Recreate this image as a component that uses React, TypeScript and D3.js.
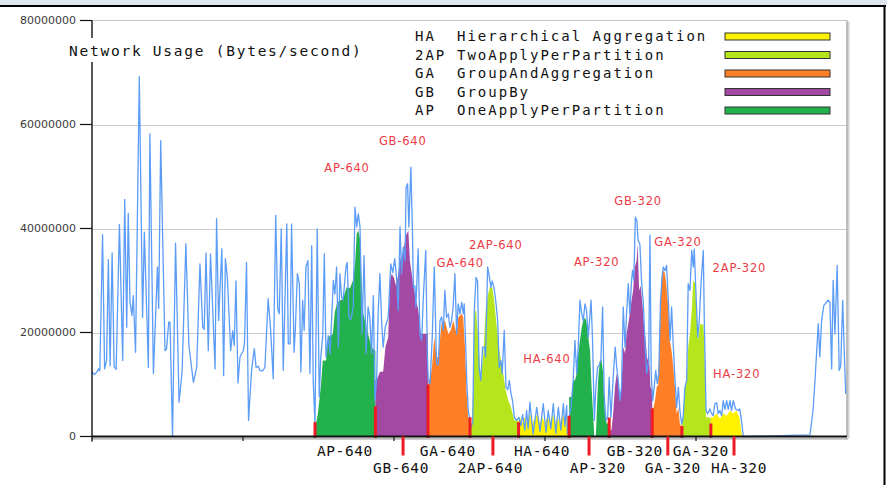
import React from 'react';
import * as d3 from 'd3';

// ---------- data (time in seconds, values in millions of bytes/second) ----------
const yTickValues = [0, 20, 40, 60, 80];
const xTickValues = [0, 60, 120, 180, 240, 300];

const networkUsage: [number, number][] = [
  [0,12.4],[0.9,11.9],[1.8,12.3],[2.6,13.0],[3.1,12.6],[4.2,38.8],[5.0,13.0],[5.8,14.6],[6.5,34.0],[7.2,13.6],[8.0,35.3],[8.8,13.4],[9.6,12.9],[10.9,40.8],[12.2,14.6],[13.0,45.6],[13.8,21.0],[14.4,42.9],[15.1,25.8],[15.9,23.3],[16.4,27.1],[17.3,16.2],[18.8,69.2],[20.1,22.9],[20.8,39.3],[22.4,13.3],[23.0,58.2],[24.4,12.1],[26.0,32.6],[26.5,24.6],[27.3,56.9],[29.0,16.5],[29.6,16.8],[30.5,22.0],[31.0,22.0],[32.0,0],[33.2,37.2],[34.6,6.6],[35.8,12.4],[37.3,37.1],[38.5,17.5],[40.3,10.4],[41.6,13.3],[42.9,33.2],[44.0,21.0],[44.6,20.6],[45.3,35.3],[46.2,16.5],[47.1,35.1],[48.9,13.0],[49.5,41.9],[50.3,22.3],[51.6,36.1],[52.3,11.7],[53.0,34.2],[53.8,30.4],[55.1,16.5],[55.9,20.3],[56.5,17.5],[57.2,29.9],[58.0,10.3],[58.8,15.3],[60.1,16.5],[60.6,17.9],[61.4,33.5],[62.2,3.1],
  [63.4,12.7],[64.5,16.9],[65.2,13.3],[66.1,13.5],[66.7,12.7],[67.8,12.6],[68.7,13.3],[70.0,26.5],[71.0,20.4],[72.0,11.1],[73.0,42.5],[73.8,24.6],[74.4,23.6],[75.2,39.9],[76.0,12.7],[77.4,40.9],[78.0,17.8],[78.7,17.8],[79.3,40.9],[80.3,16.2],[80.8,20.7],[81.6,31.3],[82.4,29.4],[83.0,12.4],[83.7,26.2],[84.3,20.4],[85.0,32.6],[85.8,33.8],[86.6,12.1],[87.3,36.7],[87.9,10.8],[88.6,2.4],[89.5,39.9],[90.3,7.6],[90.9,15.3],[91.7,19.4],[92.3,35.1],[93.0,15.3],[93.9,19.4],[94.6,15.9],[95.9,30.0],[96.5,27.4],[97.2,32.6],[97.9,17.2],[98.5,31.3],[99.2,26.8],[99.8,26.2],[100.9,32.6],[101.4,33.5],[102.1,22.9],[102.9,22.5],[103.8,24.9],[104.5,44.1],[105.2,40.3],[105.8,42.8],[106.5,40.3],[107.3,19.7],[108.1,34.8],[108.9,15.9],[109.7,24.9],[110.4,22.9],[111.1,15.9],[111.8,27.1],[112.4,6.9],[113.1,10.8],[113.7,23.6],[114.4,31.3],[115.1,21.7],[115.7,17.2],[116.5,21.0],[117.7,22.9],[118.7,33.2],[119.5,31.5],[120.3,34.2],[121.1,30.0],[121.7,24.2],
  [122.4,40.3],[123.0,31.3],[123.7,36.4],[124.4,33.8],[124.8,47.9],[125.4,48.6],[125.9,40.3],[126.7,51.8],[127.3,40.3],[127.7,28.7],[128.3,29.0],[128.7,24.9],[129.6,36.1],[130.3,19.7],[131.0,18.5],[131.6,26.2],[132.6,35.8],[133.2,17.2],[133.6,10.8],[134.3,10.1],[135.2,19.1],[136.0,32.6],[136.9,14.0],[137.6,13.8],[138.3,22.3],[138.9,23.0],[139.6,20.4],[140.2,28.1],[140.9,22.9],[141.6,23.6],[142.2,21.0],[142.9,22.3],[143.5,24.9],[144.2,31.3],[144.9,19.7],[145.5,25.5],[146.2,23.6],[146.9,25.8],[147.5,23.6],[147.9,25.5],[148.5,17.2],[148.9,10.8],[149.5,5.0],[150.6,1.8],[151.3,2.8],[151.9,24.2],[152.6,30.6],[153.2,29.9],[153.8,13.3],[154.5,10.8],[155.2,17.2],[155.9,17.2],[156.4,15.3],[157.2,32.6],[157.8,31.0],[158.5,28.7],[159.0,29.9],[159.7,28.7],[160.4,26.2],[161.2,22.3],[161.8,13.3],[162.5,14.6],[163.0,12.1],[163.8,20.4],[164.5,9.5],[165.2,9.0],[165.8,10.8],[166.5,8.2],[167.1,6.9],[167.8,3.7],[168.7,3.1],[169.6,3.7],[170.4,2.1],[171.1,4.2],[172.0,1.2],[172.7,5.0],[173.3,1.5],[174.0,6.6],[175.3,0.5],[176.7,5.6],[178.0,1.0],[179.3,6.3],[180.4,0.8],[181.3,5.0],[182.3,1.5],[183.3,6.3],[184.3,0.6],[185.3,5.6],[186.3,1.2],[187.3,6.3],[187.9,2.0],[188.6,6.0],[188.9,0.5],[189.6,3.7],[190.3,5.6],
  [191.2,10.8],[191.9,18.5],[192.6,12.1],[193.2,17.2],[193.9,26.2],[194.6,23.6],[195.2,22.3],[195.9,25.5],[196.5,24.2],[197.2,19.1],[198.3,26.2],[198.9,18.5],[199.6,3.1],[200.2,9.5],[200.9,13.3],[201.6,13.8],[202.2,14.6],[202.9,24.9],[203.5,8.2],[204.2,3.1],[204.9,3.7],[205.5,11.4],[206.2,3.7],[207.1,11.4],[207.9,17.2],[208.5,13.3],[209.1,10.8],[209.8,6.9],[210.4,9.5],[211.1,24.9],[211.8,17.2],[212.4,23.6],[213.1,29.4],[213.7,23.6],[214.4,30.0],[214.8,32.0],[215.3,30.0],[215.9,42.2],[216.5,41.5],[217.0,37.7],[217.7,37.0],[218.4,29.4],[219.0,26.2],[219.7,18.5],[220.4,12.1],[221.2,14.6],[221.7,38.7],[222.2,12.1],[222.8,6.9],[223.4,9.5],[224.0,12.7],[224.6,10.2],[225.2,12.1],[225.9,26.2],[226.5,30.6],[227.0,32.6],[227.7,31.9],[228.3,32.9],[229.0,26.2],[229.7,18.5],[230.3,24.9],[231.0,17.2],[231.6,11.4],[232.3,5.6],[233.0,9.5],[233.6,5.0],[234.3,2.4],[234.9,3.7],[235.6,9.5],[236.3,10.8],[236.9,29.4],[237.6,28.1],[238.3,35.8],[238.9,32.6],[239.3,36.1],[240.0,27.4],[240.7,19.1],[241.3,22.3],[242.0,29.4],[242.9,35.8],[243.3,22.3],[244.0,5.0],[244.6,4.4],[245.5,5.3],[246.2,4.4],[246.8,4.0],[247.5,6.3],[248.2,6.5],[248.8,4.4],[249.5,5.0],[250.2,4.0],[250.8,6.9],[251.5,5.2],[252.2,6.9],[252.8,5.2],[253.5,6.9],[254.1,5.0],[254.8,6.9],[255.7,5.3],[256.8,5.0],[257.4,5.3],[258.1,3.0],[258.8,0],[285.3,0.3],[286.5,5.0],[287.2,10.1],[288.6,21.7],[289.2,15.3],[289.9,22.3],[290.8,25.2],[292.5,26.2],[293.2,25.8],[293.9,13.0],[294.5,30.0],[295.2,19.7],[296.1,32.9],[296.9,12.7],[297.5,13.5],[298.3,26.2],[298.9,16.5],[299.5,8.2],
];

const segmentNames = ['AP-640', 'GB-640', 'GA-640', '2AP-640', 'HA-640', 'AP-320', 'GB-320', 'GA-320', '2AP-320', 'HA-320'];
const segmentKinds = ['AP', 'GB', 'GA', '2AP', 'HA', 'AP', 'GB', 'GA', '2AP', 'HA'];
const segmentStarts = [88.6, 112.6, 133.5, 150.2, 169.5, 189.6, 205.5, 222.6, 234.4, 245.9];
const segmentEnds = [112.6, 133.5, 150.2, 169.5, 189.6, 205.5, 222.6, 234.4, 245.9, 259.0];
const boundaryMarkHeights = [2.75, 5.8, 10.0, 3.7, 2.75, 4.0, 3.65, 5.4, 2.0, 2.5];

const ap640: [number, number][] = [[89.0,2.5],[89.8,4.5],[91.0,10],[91.7,14.6],[93.0,14.6],[93.9,19.1],[95.7,19.7],[96.5,24],[97.5,25.8],[99.7,26.5],[101.2,28.7],[102.5,28.5],[103.7,30],[104.5,33],[105.2,39],[105.8,39.6],[106.5,38],[107.1,30],[107.8,23.6],[109.8,19.5],[111.1,17.2],[112.4,16.5]];
const gb640: [number, number][] = [[113.1,10.8],[114.4,12.4],[115.7,12.5],[116.6,17.2],[117.7,19.1],[118.4,30],[119.1,31.3],[120.0,30.5],[120.8,29],[121.6,31],[122.4,33.8],[123.7,35.8],[124.8,38.7],[125.7,39.6],[126.3,33.8],[127.6,29.4],[128.7,26.2],[129.6,24.5],[130.7,19.7],[133.3,19.7]];
const ga640: [number, number][] = [[133.6,10.1],[134.7,12.1],[135.2,14.0],[136.0,19.1],[136.9,15.3],[137.6,15.3],[138.9,21.7],[140.2,22.3],[141.6,19.7],[142.6,20.5],[143.5,22.3],[144.9,19.7],[145.5,22.9],[146.9,23.6],[147.5,23.0],[148.2,17.2],[148.9,8.2],[149.5,3.7],[150.1,3.0]];
const twoAp640: [number, number][] = [[150.9,1.8],[151.4,8],[151.9,24.2],[152.6,24.2],[153.5,18.5],[154.5,10.8],[155.5,15.9],[156.4,24.2],[157.4,27.4],[158.1,28.7],[159.0,28.7],[159.8,26.2],[160.7,21.7],[161.7,17.2],[162.5,14.6],[163.4,12.1],[164.4,8.8],[165.4,6.9],[166.5,5.6],[167.8,3.1],[169.3,3.0]];
const ha640: [number, number][] = [[170,3.7],[171,2.6],[172,3.7],[173,2.5],[174,4.4],[175,2.5],[176,3.5],[177,4.4],[178,2.6],[179,3.7],[180,2.4],[181,4.0],[182,2.6],[183,4.4],[184,2.5],[185,3.7],[186,2.5],[187,4.4],[188,2.8],[189,4.0],[189.5,3.5]];
const ap320: [number, number][] = [[190.6,7.6],[191.2,10.8],[191.9,10.8],[192.6,12.1],[193.2,15.9],[193.9,18.5],[194.6,21.0],[195.2,22.3],[195.9,22.9],[196.5,22.0],[197.2,19.1],[197.9,16.5],[198.5,9.5],[199.2,3.7],[199.6,0],[200.2,0],[200.5,3.7],[201.1,10.8],[201.8,14.6],[202.5,14.6],[203.1,12.1],[203.8,4.4],[204.5,2.5],[205.2,2.5]];
const gb320: [number, number][] = [[206.4,1.2],[207.1,4.4],[207.8,9.5],[208.5,12.1],[209.1,10.8],[209.8,6.9],[210.4,10.0],[211.1,17.2],[211.8,16.0],[212.4,19.7],[213.1,21.7],[213.7,23.6],[214.4,26.2],[215.0,28.1],[215.7,32.6],[216.4,33.8],[216.8,37.1],[217.4,28.1],[218.0,29.0],[218.6,26.2],[219.3,21.7],[220.0,18.5],[220.6,14.6],[221.3,16.0],[221.9,9.5],[222.5,9.0]];
const ga320: [number, number][] = [[223.1,5.5],[223.7,6.9],[224.4,9.5],[225.0,10.0],[225.7,21.0],[226.3,30.0],[227.0,31.9],[227.6,31.5],[228.3,28.7],[229.0,24.9],[229.6,18.5],[230.3,16.5],[231.0,13.3],[231.6,9.5],[232.3,4.4],[233.0,5.5],[233.6,2.4],[234.2,2.0]];
const twoAp320: [number, number][] = [[234.8,3.0],[235.6,9.5],[236.3,10.8],[236.9,17.2],[237.6,19.7],[238.3,24.2],[238.9,30.0],[239.6,29.5],[240.2,23.6],[240.9,18.5],[241.6,21.7],[242.3,21.5],[242.9,21.7],[243.3,17.8],[244.0,3.7],[244.9,3.7],[245.8,3.5]];
const ha320: [number, number][] = [[246.8,3.7],[248.2,4.4],[249.5,3.4],[250.8,4.4],[252.2,4.0],[253.5,5.0],[254.8,4.4],[256.1,5.0],[257.4,3.4],[258.1,0.5],[259.0,0]];
const segmentAreas = [ap640, gb640, ga640, twoAp640, ha640, ap320, gb320, ga320, twoAp320, ha320];

const peakLabelTimes = [92.3, 114.0, 136.9, 149.8, 171.4, 191.5, 207.5, 223.4, 246.6, 246.8];
const peakLabelValues = [50.8, 56.0, 32.6, 36.1, 14.2, 32.7, 44.6, 36.6, 31.6, 11.2];

const axisLabelTexts = ['AP-640', 'GB-640', 'GA-640', '2AP-640', 'HA-640', 'AP-320', 'GB-320', 'GA-320', 'GA-320', 'HA-320'];
const axisLabelTimes = [100.5, 122.8, 141.4, 158.3, 178.8, 201.0, 215.7, 230.8, 241.9, 257.1];
const axisLabelRows = [0, 1, 0, 1, 0, 1, 0, 1, 0, 1];
const pointerTimes = [123.6, 159.3, 197.5, 228.8, 255.1];

const legendAbbr = ['HA', '2AP', 'GA', 'GB', 'AP'];
const legendNames = ['Hierarchical Aggregation', 'TwoApplyPerPartition', 'GroupAndAggregation', 'GroupBy', 'OneApplyPerPartition'];

const kindColor: Record<string, string> = {
  HA: '#fff200',
  '2AP': '#b5e61d',
  GA: '#ff7f27',
  GB: '#a349a4',
  AP: '#22b14c',
};

const MONO = '"DejaVu Sans Mono", monospace';
const SANS = '"DejaVu Sans", Verdana, sans-serif';
const RED = '#ed1c24';

export default function App() {
  const x = d3.scaleLinear().domain([0, 300]).range([92, 847]);
  const y = d3.scaleLinear().domain([0, 80]).range([436.5, 20.5]);
  const fmt = d3.format('d');

  const line = d3.line<[number, number]>().x(d => x(d[0])).y(d => y(d[1]));
  const area = d3.area<[number, number]>().x(d => x(d[0])).y0(y(0)).y1(d => y(d[1]));

  const areaPaths = segmentAreas.map((pts, i) => {
    const full: [number, number][] = [[segmentStarts[i], pts[0][1]], ...pts, [segmentEnds[i], pts[pts.length - 1][1]]];
    return area(full) || '';
  });

  const [xl, xr] = x.range();
  const yb = y(0);
  const yt = y(80);

  return (
    <svg width={887} height={485} style={{ position: 'absolute', left: 0, top: 0, background: '#fff' }}>
      {/* outer frame */}
      <rect x={0} y={0} width={887} height={5.5} fill="#dde6f1" />
      <rect x={0} y={5} width={886} height={2} fill="#000" />
      <rect x={883.5} y={5} width={2} height={480} fill="#000" />

      {/* gridlines */}
      {yTickValues.filter(v => v > 0 && v < 80).map(v => (
        <line key={v} x1={xl} x2={xr} y1={Math.round(y(v)) + 0.5} y2={Math.round(y(v)) + 0.5} stroke="#cdcdcd" strokeWidth={1} />
      ))}
      {/* panel top and right border with shadow */}
      <line x1={xl} x2={xr} y1={yt} y2={yt} stroke="#c4c4c4" strokeWidth={1} />
      <line x1={xr + 1.5} x2={xr + 1.5} y1={yt + 1} y2={yb + 2} stroke="#d4d4d4" strokeWidth={2} />
      <line x1={xr} x2={xr} y1={yt} y2={yb} stroke="#9a9a9a" strokeWidth={1.2} />

      {/* segment areas */}
      {areaPaths.map((p, i) => (
        <path key={i} d={p} fill={kindColor[segmentKinds[i]]} stroke="none" />
      ))}

      {/* network usage line */}
      <path d={line(networkUsage) || ''} fill="none" stroke="#5b9cf6" strokeWidth={1.3} strokeLinejoin="round" />

      {/* boundary red marks */}
      {segmentStarts.map((t, i) => (
        <rect key={i} x={x(t) - 1.5} y={y(boundaryMarkHeights[i])} width={3} height={yb - y(boundaryMarkHeights[i]) + 1.5} fill={RED} />
      ))}

      {/* axes */}
      <line x1={xl} x2={xr + 1} y1={yb + 2.2} y2={yb + 2.2} stroke="#bdbdbd" strokeWidth={2} />
      <line x1={xl} x2={xr} y1={yb} y2={yb} stroke="#111" strokeWidth={2} />
      <line x1={xl} x2={xl} y1={yt} y2={yb + 5} stroke="#111" strokeWidth={1.4} />
      {yTickValues.map(v => (
        <g key={v}>
          <line x1={80} x2={xl} y1={y(v)} y2={y(v)} stroke="#111" strokeWidth={1.2} />
          <text x={76} y={y(v)} dy="0.36em" textAnchor="end" fontFamily={SANS} fontSize={11} fill="#3a3a3a">{fmt(v * 1e6)}</text>
        </g>
      ))}
      {xTickValues.filter(t => t > 0 && t < 300).map(t => (
        <line key={t} x1={x(t)} x2={x(t)} y1={yb} y2={yb + 4.5} stroke="#111" strokeWidth={1.2} />
      ))}

      {/* pointer ticks below axis */}
      {pointerTimes.map((t, i) => (
        <rect key={i} x={x(t) - 1.5} y={yb} width={3} height={19} fill={RED} />
      ))}

      {/* axis labels */}
      {axisLabelTexts.map((s, i) => (
        <text key={i} x={x(axisLabelTimes[i])} y={axisLabelRows[i] === 0 ? 456 : 473} textAnchor="middle" fontFamily={MONO} fontSize={14.5} letterSpacing={0.6} fill="#111">{s}</text>
      ))}

      {/* peak labels */}
      {segmentNames.map((s, i) => (
        <text key={i} x={x(peakLabelTimes[i])} y={y(peakLabelValues[i])} fontFamily={SANS} fontSize={11.5} letterSpacing={0.8} fill="#ee3a43">{s}</text>
      ))}

      {/* title */}
      <rect x={64} y={38} width={302} height={24} fill="#fff" />
      <text x={69} y={55.5} fontFamily={MONO} fontSize={14.5} letterSpacing={1.75} fill="#111">Network Usage (Bytes/second)</text>

      {/* legend */}
      {legendAbbr.map((a, i) => {
        const by = 41 + i * 18.5;
        return (
          <g key={a}>
            <text x={415} y={by} fontFamily={MONO} fontSize={14} letterSpacing={2.0} fill="#111">{a}</text>
            <text x={457} y={by} fontFamily={MONO} fontSize={14} letterSpacing={2.0} fill="#111">{legendNames[i]}</text>
            <rect x={725} y={by - 8} width={105} height={7} fill={kindColor[a]} stroke="#333" strokeWidth={1} />
          </g>
        );
      })}
    </svg>
  );
}
